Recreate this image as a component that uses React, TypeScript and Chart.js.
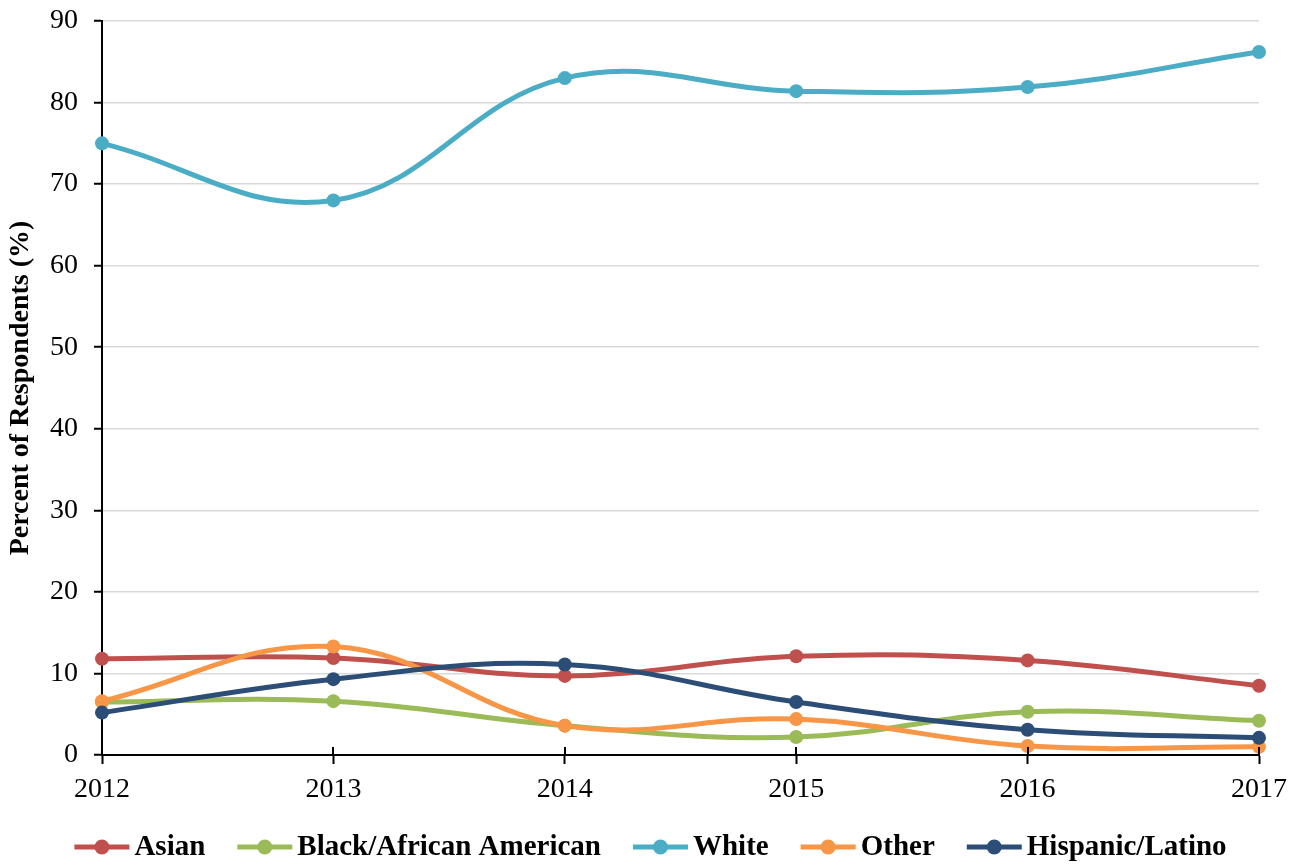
import React, { useEffect, useRef } from "react";
import { Chart, registerables } from "chart.js";

Chart.register(...registerables);

const years = ["2012", "2013", "2014", "2015", "2016", "2017"];
const asian = [11.8, 11.9, 9.7, 12.1, 11.6, 8.5];
const blackAfricanAmerican = [6.5, 6.6, 3.6, 2.2, 5.3, 4.2];
const white = [75.0, 68.0, 83.0, 81.4, 81.9, 86.2];
const other = [6.6, 13.3, 3.6, 4.4, 1.1, 1.0];
const hispanicLatino = [5.2, 9.3, 11.1, 6.5, 3.1, 2.1];

const seriesNames = ["Asian", "Black/African American", "White", "Other", "Hispanic/Latino"];
const seriesColors = ["#C0504D", "#9BBB59", "#4BACC6", "#F79646", "#2C4D75"];
const seriesValues = [asian, blackAfricanAmerican, white, other, hispanicLatino];

const FONT = "'Liberation Serif', 'Times New Roman', serif";
const LEGEND_FONT = `bold 29px ${FONT}`;
const LEGEND_Y = 847;
const MARKER_W = 55;
const MARKER_GAP = 5;
const ITEM_GAP = 32;

// Bottom legend: a line-and-dot marker followed by the series name.
const bottomLegend = {
  id: "bottomLegend",
  afterDraw(chart: any) {
    const ctx = chart.ctx;
    ctx.save();
    ctx.font = LEGEND_FONT;
    const widths = seriesNames.map((n) => ctx.measureText(n).width);
    const total =
      widths.reduce((s, w) => s + MARKER_W + MARKER_GAP + w, 0) + ITEM_GAP * (seriesNames.length - 1);
    let x = (chart.width - total) / 2;
    ctx.textBaseline = "middle";
    ctx.textAlign = "left";
    seriesNames.forEach((name, i) => {
      const color = seriesColors[i];
      ctx.strokeStyle = color;
      ctx.lineWidth = 5;
      ctx.beginPath();
      ctx.moveTo(x, LEGEND_Y);
      ctx.lineTo(x + MARKER_W, LEGEND_Y);
      ctx.stroke();
      ctx.fillStyle = color;
      ctx.beginPath();
      ctx.arc(x + MARKER_W / 2, LEGEND_Y, 7.5, 0, Math.PI * 2);
      ctx.fill();
      x += MARKER_W + MARKER_GAP;
      ctx.fillStyle = "#000";
      ctx.fillText(name, x, LEGEND_Y + 1);
      x += widths[i] + ITEM_GAP;
    });
    ctx.restore();
  },
};

// Short tick marks above the x axis so the category ticks cross the axis line.
const crossTicks = {
  id: "crossTicks",
  afterDatasetsDraw(chart: any) {
    const x = chart.scales.x;
    const ctx = chart.ctx;
    ctx.save();
    ctx.strokeStyle = "#000";
    ctx.lineWidth = 2;
    for (let i = 0; i < years.length; i++) {
      const px = Math.round(x.getPixelForValue(i));
      ctx.beginPath();
      ctx.moveTo(px, x.top - 8);
      ctx.lineTo(px, x.top);
      ctx.stroke();
    }
    ctx.restore();
  },
};

export default function App() {
  const ref = useRef<HTMLCanvasElement>(null);

  useEffect(() => {
    const chart = new Chart(ref.current!, {
      type: "line",
      data: {
        labels: years,
        datasets: seriesNames.map((name, i) => ({
          label: name,
          data: seriesValues[i],
          borderColor: seriesColors[i],
          backgroundColor: seriesColors[i],
          borderWidth: 5,
          pointRadius: 7,
          pointBorderWidth: 0,
          pointBackgroundColor: seriesColors[i],
          tension: 0.4,
          order: seriesNames.length - i,
        })),
      },
      options: {
        animation: false,
        responsive: false,
        layout: { padding: { top: 21, right: 42, left: 0, bottom: 0 } },
        plugins: {
          tooltip: { enabled: false },
          legend: { display: false },
        },
        scales: {
          x: {
            offset: false,
            afterFit(scale: any) {
              scale.height = 110;
              scale.paddingLeft = 0;
              scale.paddingRight = 0;
            },
            grid: {
              drawOnChartArea: false,
              drawTicks: true,
              tickLength: 9,
              tickColor: "#000",
              tickWidth: 2,
            },
            border: { color: "#000", width: 2 },
            ticks: {
              color: "#000",
              font: { family: FONT, size: 28 },
              padding: 9,
              maxRotation: 0,
            },
          },
          y: {
            min: 0,
            max: 90,
            afterFit(scale: any) {
              scale.width = 102;
              scale.paddingTop = 0;
              scale.paddingBottom = 0;
            },
            ticks: {
              stepSize: 10,
              color: "#000",
              font: { family: FONT, size: 28 },
              padding: 16,
            },
            grid: {
              color: "#d9d9d9",
              lineWidth: 1.5,
              tickColor: "#000",
              tickLength: 8,
              tickWidth: 2,
            },
            border: { color: "#000", width: 2 },
            title: {
              display: true,
              text: "Percent of Respondents (%)",
              color: "#000",
              font: { family: FONT, size: 28, weight: "bold" },
              padding: { top: 4, bottom: 0 },
            },
          },
        },
      },
      plugins: [crossTicks, bottomLegend],
    });
    return () => chart.destroy();
  }, []);

  return (
    <div style={{ position: "fixed", left: 0, top: 0, width: 1301, height: 865, background: "#fff" }}>
      <canvas ref={ref} width={1301} height={865} />
    </div>
  );
}
